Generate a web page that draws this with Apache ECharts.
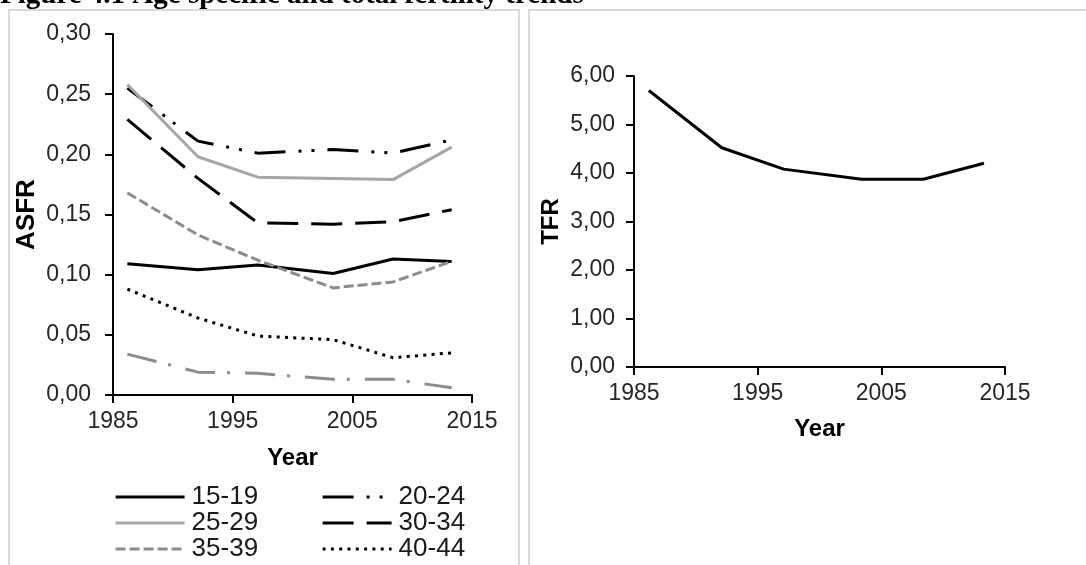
<!DOCTYPE html>
<html><head><meta charset="utf-8">
<script src="https://cdn.jsdelivr.net/npm/echarts@6/dist/echarts.min.js"></script>
<style>html,body{margin:0;padding:0;background:#fff;overflow:hidden}#c{width:1086px;height:565px}</style>
</head><body><div id="c"></div>
<script>
// ---- data ----
const titleText = 'Figure 4.1 Age specific and total fertility trends';
const years = [1986.2, 1992.1, 1997.1, 2003.4, 2008.4, 2013.3];
const ageGroups = ['15-19', '20-24', '25-29', '30-34', '35-39', '40-44', '45-49'];
const asfr1519 = [0.109, 0.104, 0.108, 0.101, 0.113, 0.111];
const asfr2024 = [0.255, 0.211, 0.201, 0.204, 0.201, 0.212];
const asfr2529 = [0.258, 0.198, 0.181, 0.180, 0.179, 0.206];
const asfr3034 = [0.229, 0.180, 0.143, 0.142, 0.144, 0.154];
const asfr3539 = [0.168, 0.133, 0.112, 0.089, 0.094, 0.111];
const asfr4044 = [0.088, 0.064, 0.049, 0.046, 0.031, 0.035];
const asfr4549 = [0.034, 0.019, 0.018, 0.013, 0.013, 0.006];
const tfr = [5.70, 4.52, 4.08, 3.87, 3.87, 4.20];
const asfrTickLabels = ['0,00', '0,05', '0,10', '0,15', '0,20', '0,25', '0,30'];
const tfrTickLabels = ['0,00', '1,00', '2,00', '3,00', '4,00', '5,00', '6,00'];
const yearTicks = [1985, 1995, 2005, 2015];

// ---- styles ----
const FONT = '"Liberation Sans", Arial, sans-serif';
const seriesStyles = {
  '15-19': {color: '#000000', type: 'solid'},
  '20-24': {color: '#000000', type: [31, 13, 3, 10, 3, 13]},
  '25-29': {color: '#a6a6a6', type: 'solid'},
  '30-34': {color: '#000000', type: [31, 13]},
  '35-39': {color: '#8c8c8c', type: [10, 4]},
  '40-44': {color: '#000000', type: [3, 5.3]},
  '45-49': {color: '#8c8c8c', type: [30, 12, 3, 15]}
};
const asfrData = [asfr1519, asfr2024, asfr2529, asfr3034, asfr3539, asfr4044, asfr4549];

function lineSeries(name, values, axisIdx, style) {
  return {
    name: name, type: 'line', xAxisIndex: axisIdx, yAxisIndex: axisIdx,
    data: years.map((y, i) => [y, values[i]]),
    symbol: 'none', showSymbol: false, silent: true,
    lineStyle: {color: style.color, width: 3, type: style.type, cap: 'butt'},
    itemStyle: {color: style.color}
  };
}

const series = ageGroups.map((g, k) => lineSeries(g, asfrData[k], 0, seriesStyles[g]));
series.push(lineSeries('TFR', tfr, 1, {color: '#000000', type: 'solid'}));

function xAxisCfg(gridIndex, gap) {
  return {
    type: 'value', gridIndex: gridIndex, min: yearTicks[0], max: yearTicks[yearTicks.length - 1], interval: 10,
    name: 'Year', nameLocation: 'middle', nameGap: gap,
    nameTextStyle: {fontFamily: FONT, fontWeight: 'bold', fontSize: 24, color: '#000'},
    axisLine: {show: true, lineStyle: {color: '#000', width: 2}},
    axisTick: {show: true, length: 8, lineStyle: {color: '#000', width: 2}},
    axisLabel: {fontFamily: FONT, fontSize: 23, color: '#262626', margin: 15, formatter: v => String(v)},
    splitLine: {show: false}
  };
}
function yAxisCfg(gridIndex, name, max, interval, labels, gap, nameSize, margin) {
  return {
    type: 'value', gridIndex: gridIndex, min: 0, max: max, interval: interval,
    name: name, nameLocation: 'middle', nameGap: gap,
    nameTextStyle: {fontFamily: FONT, fontWeight: 'bold', fontSize: nameSize, color: '#000'},
    axisLine: {show: true, lineStyle: {color: '#000', width: 2}},
    axisTick: {show: true, length: 8, lineStyle: {color: '#000', width: 2}},
    axisLabel: {fontFamily: FONT, fontSize: 23, color: '#262626', margin: margin,
      formatter: v => labels[Math.round(v / interval)]},
    splitLine: {show: false}
  };
}

const legendBase = {
  orient: 'vertical', itemWidth: 69, itemHeight: 14, itemGap: 0, selectedMode: false,
  itemStyle: {opacity: 0},
  lineStyle: {width: 3.2},
  textStyle: {fontFamily: FONT, fontSize: 26, lineHeight: 25.5, color: '#1a1a1a', padding: [0, 0, 0, 2]},
  padding: 0
};

const chart = echarts.init(document.getElementById('c'), null, {renderer: 'canvas'});
chart.setOption({
  animation: false,
  backgroundColor: '#ffffff',
  graphic: [
    {type: 'rect', silent: true, z: -10, shape: {x: 9, y: 10, width: 510, height: 600},
      style: {fill: 'none', stroke: '#d9d9d9', lineWidth: 2}},
    {type: 'rect', silent: true, z: -10, shape: {x: 529, y: 10, width: 600, height: 600},
      style: {fill: 'none', stroke: '#d9d9d9', lineWidth: 2}},
    {type: 'text', silent: true, x: 0, y: -4,
      style: {text: titleText, font: 'bold 29px "Liberation Serif", "Times New Roman", serif', fill: '#000', verticalAlign: 'middle'}}
  ],
  grid: [
    {left: 113, top: 34, width: 359, height: 361, containLabel: false},
    {left: 634, top: 76, width: 371, height: 291, containLabel: false}
  ],
  xAxis: [xAxisCfg(0, 51), xAxisCfg(1, 50)],
  yAxis: [
    yAxisCfg(0, 'ASFR', 0.30, 0.05, asfrTickLabels, 73, 26, 22),
    yAxisCfg(1, 'TFR', 6, 1, tfrTickLabels, 71, 24, 19)
  ],
  legend: [
    Object.assign({}, legendBase, {data: ['15-19', '25-29', '35-39'], left: 114, top: 484}),
    Object.assign({}, legendBase, {data: ['20-24', '30-34', '40-44'], left: 321, top: 484})
  ],
  series: series
});
</script>
</body></html>
